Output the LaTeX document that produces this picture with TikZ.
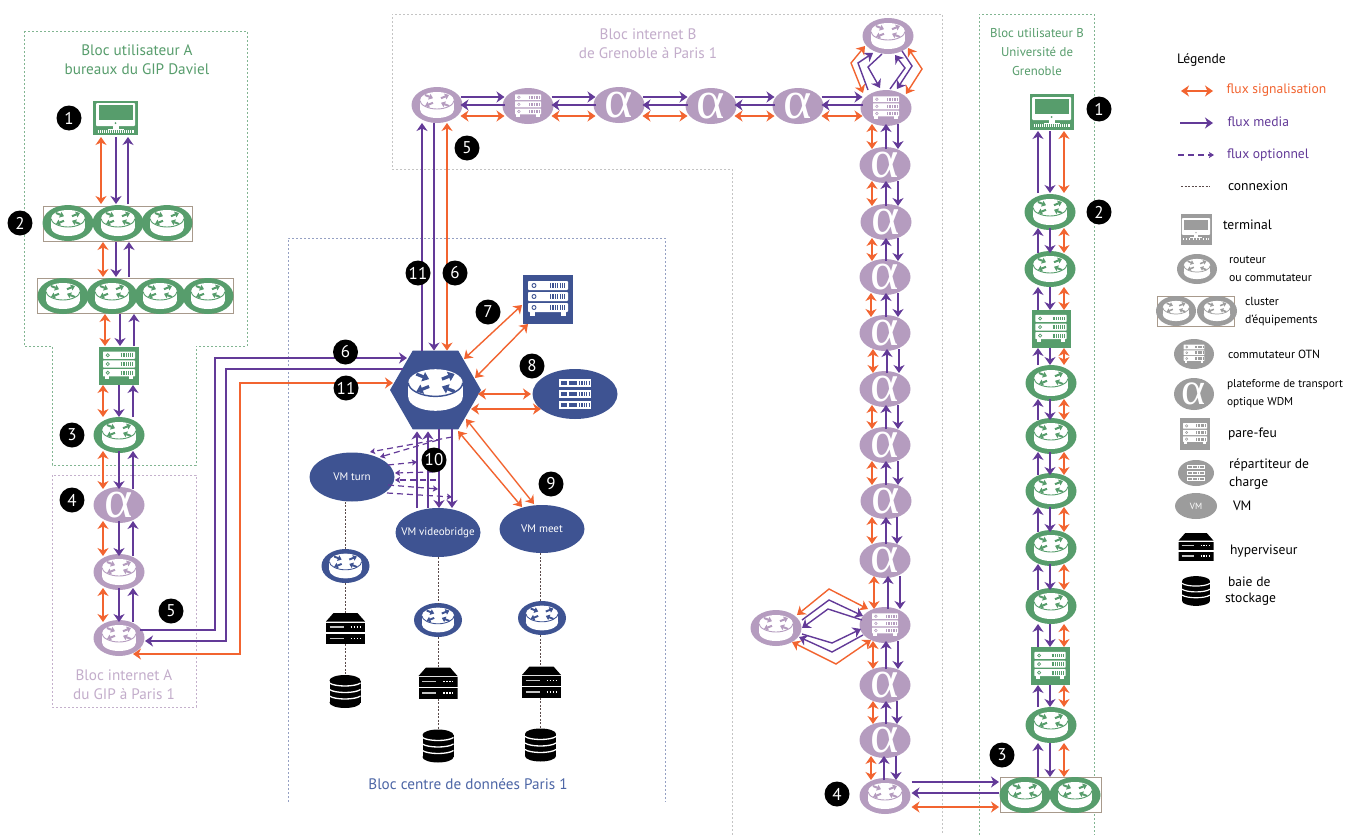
\documentclass[tikz,border=0pt]{standalone}
\usepackage{fontspec}
\setmainfont{PT Sans}
\newfontfamily\greekfont{Liberation Serif}
\usetikzlibrary{arrows.meta,shapes.geometric,calc}
\definecolor{grn}{HTML}{579D6C}
\definecolor{ppl}{HTML}{B59CBF}
\definecolor{blu}{HTML}{3E5392}
\definecolor{org}{HTML}{F26430}
\definecolor{vio}{HTML}{633A98}
\definecolor{gry}{HTML}{9C9C9C}
\definecolor{brn}{HTML}{A89A8C}
\definecolor{ttlp}{HTML}{C3ADCB}
\definecolor{ttlb}{HTML}{4D66A6}
\definecolor{dotc}{HTML}{5A4A4A}
% ---------- icons, drawn inside their node (origin = node centre)
\newcommand\routericon[2]{%
 \begin{scope}[shift={(path picture bounding box.center)},x=#2pt,y=-#2pt]
  \fill[white] (0,-4.5) ellipse [x radius=17,y radius=8.5];
  \fill[white] (0,4.5) ellipse [x radius=17,y radius=8.5];
  \fill[white] (-17,-4.5) rectangle (17,4.5);
  \draw[#1,line width=#2*0.9pt] (-17,-4.5) .. controls (-17,0) and (-9,4) .. (0,4) .. controls (9,4) and (17,0) .. (17,-4.5);
  \begin{scope}[#1,line width=#2*2pt,-{Triangle[length=4pt,width=6pt,scale=#2]}]
   \draw (-12,-10) -- (-4,-6.8);
   \draw (12,1) -- (4,-2.2);
   \draw (4,-6.8) -- (12,-10);
   \draw (-4,-2.2) -- (-12,1);
  \end{scope}
 \end{scope}}
\newcommand\srvrow[3]{% colour, y, scale
  \fill[white,rounded corners=#3*0.8pt] (-20,#2) rectangle (20,#2+9);
  \draw[#1,line width=#3*0.9pt] (-14,#2+4.5) circle [radius=2];
  \draw[#1,line width=#3*5pt,dash pattern=on #3*1.2pt off #3*1.2pt] (2,#2+4.5) -- (17,#2+4.5);}
\newcommand\servericon[2]{%
 \begin{scope}[shift={(path picture bounding box.center)},x=#2pt,y=-#2pt]
  \srvrow{#1}{-18}{#2}\srvrow{#1}{-7}{#2}\srvrow{#1}{4}{#2}
  \fill[white] (-18,13) rectangle (-13,16.5);
  \fill[white] (13,13) rectangle (18,16.5);
 \end{scope}}
\newcommand\lbrow[3]{%
  \fill[white] (-16,#2) rectangle (16,#2+8);
  \fill[#1] (-14,#2+2) rectangle (-8,#2+6);
  \fill[#1] (-6,#2+2) rectangle (2,#2+6);
  \draw[#1,line width=#3*4.5pt,dash pattern=on #3*1.2pt off #3*1.2pt] (4,#2+4) -- (15,#2+4);}
\newcommand\lbicon[2]{%
 \begin{scope}[shift={(path picture bounding box.center)},x=#2pt,y=-#2pt]
  \lbrow{#1}{-15}{#2}\lbrow{#1}{-4}{#2}\lbrow{#1}{7}{#2}
 \end{scope}}
\newcommand\termicon[2]{%
 \begin{scope}[shift={(path picture bounding box.center)},x=#2pt,y=-#2pt]
  \fill[white,rounded corners=#2*1pt] (-19.5,-15) rectangle (19.5,8);
  \fill[#1] (-17,-13) rectangle (17,2);
  \fill[#1] (0,5) circle [radius=1];
  \fill[white] (-3,8) rectangle (3,12);
  \fill[white] (-8,10.5) rectangle (8,12);
  \draw[white,line width=#2*2.5pt] (-18,13.5) -- (18,13.5);
  \draw[#1,line width=#2*2.5pt,dash pattern=on #2*1pt off #2*1pt] (-17,13.5) -- (17,13.5);
 \end{scope}}
\newcommand\hypericon[1]{%
 \begin{scope}[shift={(path picture bounding box.center)},x=#1pt,y=-#1pt]
  \fill[black] (-12,-15.5) -- (12,-15.5) -- (19.5,-7) -- (-19.5,-7) -- cycle;
  \fill[black] (-19.5,-6) rectangle (19.5,3.5);
  \fill[black] (-19.5,5) rectangle (19.5,15.5);
  \foreach \yy in {-1.5,10}{
   \draw[gry!60,line width=#1*1.2pt] (-16,\yy) -- (-2,\yy);
   \draw[white,line width=#1*1.2pt,dash pattern=on #1*1.5pt off #1*1.5pt] (5,\yy) -- (15,\yy);}
 \end{scope}}
\newcommand\storicon[1]{%
 \begin{scope}[shift={(path picture bounding box.center)},x=#1pt,y=-#1pt]
  \fill[black] (0,-11) ellipse [x radius=15.5,y radius=5.5];
  \fill[black] (0,11) ellipse [x radius=15.5,y radius=5.5];
  \fill[black] (-15.5,-11) rectangle (15.5,11);
  \foreach \yy in {-7,-0.5,6}{
   \draw[white,line width=#1*1.3pt] (-15.5,\yy-1.5) .. controls (-10,\yy+2.5) and (10,\yy+2.5) .. (15.5,\yy-1.5);}
 \end{scope}}
\newcommand\alp{\smash{\raisebox{-12pt}{\makebox[0pt]{α}}}}
\newcommand\alps{\smash{\raisebox{-10pt}{\makebox[0pt]{α}}}}
\newcommand\zt[1]{\makebox[0pt]{#1}}
% ---------- styles
\tikzset{
 x=1pt,y=-1pt,
 devbase/.style={inner sep=0pt,outer sep=0pt,draw=none},
 rtz/.style n args={4}{devbase,ellipse,fill=#1,minimum width=#2pt,minimum height=#3pt,path picture={\routericon{#1}{#4}}},
 otz/.style n args={4}{devbase,ellipse,fill=#1,minimum width=#2pt,minimum height=#3pt,path picture={\servericon{#1}{#4}}},
 fwz/.style n args={4}{devbase,rectangle,fill=#1,minimum width=#2pt,minimum height=#3pt,path picture={\servericon{#1}{#4}}},
 tmz/.style n args={4}{devbase,rectangle,fill=#1,minimum width=#2pt,minimum height=#3pt,path picture={\termicon{#1}{#4}}},
 lbz/.style n args={4}{devbase,ellipse,fill=#1,minimum width=#2pt,minimum height=#3pt,path picture={\lbicon{#1}{#4}}},
 rtr/.style={rtz={#1}{51}{36}{1}},
 otn/.style={otz={#1}{51}{36}{0.65}},
 wdm/.style={devbase,ellipse,fill=ppl,minimum width=51pt,minimum height=36pt,text=white,font=\greekfont\fontsize{54}{54}\selectfont},
 hyp/.style={devbase,rectangle,minimum width=39pt,minimum height=31pt,path picture={\hypericon{1}}},
 sto/.style={devbase,rectangle,minimum width=32pt,minimum height=33pt,path picture={\storicon{1}}},
 vmn/.style={devbase,ellipse,fill=blu,minimum width=85pt,minimum height=49pt,text=white,font=\fontsize{11}{13}\selectfont},
 clu/.style={rectangle,draw=brn,line width=1pt,fill=white,inner sep=0pt,outer sep=0pt},
 badge/.style={devbase,circle,fill=black,minimum size=25pt,text=white,font=\fontsize{17}{17}\selectfont},
 sig/.style={draw=org,line width=1.4pt,{Stealth[length=8pt,width=11pt,inset=2.5pt]}-{Stealth[length=8pt,width=11pt,inset=2.5pt]}},
 med/.style={draw=vio,line width=1.4pt,-{Stealth[length=8pt,width=11pt,inset=2.5pt]}},
 opt/.style={draw=vio,line width=1.2pt,dash pattern=on 6pt off 4pt,-{Stealth[length=5pt,width=6pt,inset=1pt]}},
 conn/.style={draw=dotc,line width=0.9pt,dash pattern=on 2pt off 1.5pt},
 lim/.style={line width=0.8pt,dash pattern=on 2pt off 2pt},
 ttl/.style={devbase,align=center,font=\fontsize{15.2}{19}\selectfont},
 leg/.style={devbase,anchor=west,align=left,font=\fontsize{13.6}{18}\selectfont},
 legs/.style={leg,font=\fontsize{11.8}{18}\selectfont},
}
\newcommand\vl[6][-2pt]{% top, bottom, x orange, x down, x up
 \draw[sig,shorten >=#1,shorten <=#1] (#4,0 |- #2.south) -- (#4,0 |- #3.north);
 \draw[med,shorten >=#1,shorten <=#1] (#5,0 |- #2.south) -- (#5,0 |- #3.north);
 \draw[med,shorten >=#1,shorten <=#1] (#6,0 |- #3.north) -- (#6,0 |- #2.south);}
\newcommand\hl[6][-2pt]{% left, right, y forward, y back, y orange
 \draw[med,shorten >=#1,shorten <=#1] (#2.east |- 0,#4) -- (#3.west |- 0,#4);
 \draw[med,shorten >=#1,shorten <=#1] (#3.west |- 0,#5) -- (#2.east |- 0,#5);
 \draw[sig,shorten >=#1,shorten <=#1] (#2.east |- 0,#6) -- (#3.west |- 0,#6);}
\begin{document}
\begin{tikzpicture}
\useasboundingbox (0,0) rectangle (1347,835);
\fill[white] (0,0) rectangle (1347,835);
% ---------- block outlines
\draw[lim,draw=grn!75] (24,31) -- (247,31) -- (247,346) -- (196,346) -- (196,465) -- (52,465) -- (52,346) -- (24,346) -- cycle;
\draw[lim,draw=ppl!80] (52,475) rectangle (196,707);
\draw[lim,draw=blu!55] (288,802) -- (288,238) -- (665,238) -- (665,802);
\draw[lim,draw=gry!60] (732,835) -- (732,169) -- (392,169) -- (392,14) -- (942,14) -- (942,835);
\draw[lim,draw=grn!75] (979,835) -- (979,14) -- (1094,14) -- (1094,835);
% ---------- titles
\node[ttl,text=grn] (tA) at (137,59.5) {Bloc utilisateur A\\bureaux du GIP Daviel};
\node[ttl,text=ttlp] (tiA) at (124,684.5) {Bloc internet A\\du GIP à Paris 1};
\node[ttl,text=ttlp] (tiB) at (648,44) {Bloc internet B\\de Grenoble à Paris 1};
\node[ttl,text=ttlb] (tC) at (468,784) {Bloc centre de données Paris 1};
\node[ttl,text=grn,font=\fontsize{12.8}{19}\selectfont] (tB) at (1037,52) {Bloc utilisateur B\\Université de\\Grenoble};
% ---------- user A
\node[tmz={grn}{45}{34}{1}] (tmA) at (115.5,118) {};
\node[clu,minimum width=149pt,minimum height=35pt] (cl1) at (117.5,223.5) {};
\node[rtr=grn] (c11) at (68,223) {};
\node[rtr=grn] (c12) at (118,223) {};
\node[rtr=grn] (c13) at (167,223) {};
\node[clu,minimum width=196pt,minimum height=35pt] (cl2) at (135,295.5) {};
\node[rtr=grn] (c21) at (63,296) {};
\node[rtr=grn] (c22) at (112,296) {};
\node[rtr=grn] (c23) at (160,296) {};
\node[rtr=grn] (c24) at (208,296) {};
\node[fwz={grn}{40}{38}{0.8}] (fwA) at (119,366) {};
\node[rtr=grn] (r3A) at (119,435) {};
\node[wdm] (aA) at (119,505) {\alp};
\node[rtr=ppl] (rp1) at (119,572) {};
\node[rtr=ppl] (rp2) at (119,638) {};
\vl[2pt]{tmA}{cl1}{101}{116}{128}
\vl[1pt]{cl1}{cl2}{103}{116}{129}
\vl[1pt]{cl2}{fwA}{105}{120}{134}
\vl[0pt]{fwA}{r3A}{103}{119}{133}
\vl{r3A}{aA}{103}{119}{133}
\vl{aA}{rp1}{103}{119}{133}
\vl{rp1}{rp2}{103}{119}{133}
% ---------- data centre
\node[devbase,regular polygon,regular polygon sides=6,minimum size=91pt,fill=blu,path picture={\routericon{blu}{1.6}}] (hex) at (435.5,390) {};
\node[fwz={blu}{50}{49}{1}] (fw7) at (548,299) {};
\node[lbz={blu}{85}{50}{1}] (lb8) at (575,394) {};
\node[vmn] (turn) at (352,477) {\zt{VM turn}};
\node[vmn] (vid) at (438,532.5) {\zt{VM videobridge}};
\node[vmn,minimum height=48pt] (meet) at (542,529) {\zt{VM meet}};
\node[rtz={blu}{48}{34}{0.95}] (rd1) at (345.5,566) {};
\node[rtz={blu}{48}{34}{0.95}] (rd2) at (438,620) {};
\node[rtz={blu}{48}{34}{0.95}] (rd3) at (542,618) {};
\node[hyp] (hy1) at (345.5,628.5) {};
\node[hyp] (hy2) at (438,683) {};
\node[hyp] (hy3) at (541.5,682) {};
\node[sto] (st1) at (345,691.5) {};
\node[sto] (st2) at (438,746) {};
\node[sto] (st3) at (540.5,745) {};
\draw[conn] (345.5,0 |- turn.south) -- (345.5,0 |- rd1.north);
\draw[conn] (345.5,0 |- rd1.south) -- (345.5,0 |- hy1.north);
\draw[conn] (345.5,0 |- hy1.south) -- (345.5,0 |- st1.north);
\draw[conn] (vid.south) -- (rd2.north);
\draw[conn] (rd2.south) -- (hy2.north);
\draw[conn] (hy2.south) -- (st2.north);
\draw[conn] (540.5,0 |- meet.south) -- (540.5,0 |- rd3.north);
\draw[conn] (540.5,0 |- rd3.south) -- (540.5,0 |- hy3.north);
\draw[conn] (540.5,0 |- hy3.south) -- (540.5,0 |- st3.north);
\draw[sig] ([shift={(28.5,-31)}]hex.center) -- ([shift={(-26,6)}]fw7.center);
\draw[sig] ([shift={(39.5,-12)}]hex.center) -- ([shift={(-20,25)}]fw7.center);
\draw[sig] ([shift={(42.5,4)}]hex.center) -- ([shift={(-44,0)}]lb8.center);
\draw[sig] ([shift={(35.5,19)}]hex.center) -- ([shift={(-34,15)}]lb8.center);
\draw[sig] ([shift={(30.5,29)}]hex.center) -- ([shift={(-8,-25)}]meet.center);
\draw[sig] ([shift={(22.5,41)}]hex.center) -- ([shift={(-20,-22)}]meet.center);
\draw[med,shorten >=2pt] (417,0 |- vid.north) -- (417,0 |- hex.south);
\draw[med,shorten >=2pt] (428,0 |- vid.north) -- (428,0 |- hex.south);
\draw[med] (439,0 |- hex.south) -- (439,0 |- vid.north);
\draw[med] (452,0 |- hex.south) -- (452,0 |- vid.north);
\draw[opt] ([shift={(16.5,47)}]hex.center) -- ([shift={(18,-25)}]turn.center);
\draw[opt] ([shift={(2.5,50)}]hex.center) -- ([shift={(28,-20)}]turn.center);
\draw[opt] ([shift={(36,-12)}]turn.center) -- ([shift={(-18.5,72)}]hex.center);
\draw[opt] ([shift={(-2.5,82)}]hex.center) -- ([shift={(43,-4)}]turn.center);
\draw[opt] ([shift={(0,90)}]hex.center) -- ([shift={(43,3)}]turn.center);
\draw[opt] ([shift={(36,8)}]turn.center) -- ([shift={(2.5,99)}]hex.center);
\draw[opt] ([shift={(35,16)}]turn.center) -- ([shift={(16.5,107)}]hex.center);
% ---------- links block A <-> hex
\draw[med] ([shift={(21,-8)}]rp2.center) -| (215,358) -- ([shift={(-28.5,-32)}]hex.center);
\draw[med] ([shift={(-33,-21)}]hex.center) -- (226,369) |- ([shift={(26,3)}]rp2.center);
\draw[sig] ([shift={(14,16)}]rp2.center) -| (240,383) -- ([shift={(-42.5,-7)}]hex.center);
% ---------- internet B
\node[rtr=ppl] (rB1) at (437,105) {};
\node[otn=ppl] (otA) at (528,106) {};
\node[wdm] (a1) at (619,105) {\alp};
\node[wdm] (a2) at (711,106) {\alp};
\node[wdm] (a3) at (798,106) {\alp};
\node[otn=ppl] (otT) at (886,108) {};
\node[rtr=ppl] (rTop) at (888,36) {};
\node[wdm] (b1) at (885,165) {\alp};
\node[wdm] (b2) at (886,222) {\alp};
\node[wdm] (b3) at (885,277) {\alp};
\node[wdm] (b4) at (885,333) {\alp};
\node[wdm] (b5) at (885,389) {\alp};
\node[wdm] (b6) at (885,445) {\alp};
\node[wdm] (b7) at (886,501) {\alp};
\node[wdm] (b8) at (885,560) {\alp};
\node[otn=ppl] (otB) at (885,625) {};
\node[wdm] (b9) at (885,685) {\alp};
\node[wdm] (b10) at (885,740) {\alp};
\node[rtr=ppl] (rB2) at (885,796) {};
\node[rtr=ppl] (rL) at (776,628) {};
\draw[med] (422,0 |- hex.north) -- (422,0 |- rB1.south);
\draw[med] (434,0 |- rB1.south) -- (434,0 |- hex.north);
\draw[sig] (447,0 |- rB1.south) -- (447,0 |- hex.north);
\hl{rB1}{otA}{97}{105}{116}
\hl{otA}{a1}{97}{105}{116}
\hl{a1}{a2}{97}{105}{116}
\hl{a2}{a3}{97}{105}{116}
\hl{a3}{otT}{97}{105}{116}
\vl{otT}{b1}{872}{898}{886}
\vl{b1}{b2}{872}{898}{886}
\vl{b2}{b3}{872}{898}{886}
\vl{b3}{b4}{871}{898}{886}
\vl{b4}{b5}{873}{899}{887}
\vl{b5}{b6}{872}{898}{886}
\vl{b6}{b7}{872}{898}{886}
\vl{b7}{b8}{872}{897}{886}
\vl{b8}{otB}{874}{900}{888}
\vl{otB}{b9}{873}{898}{886}
\vl{b9}{b10}{873}{897}{886}
\vl{b10}{rB2}{871}{896}{884}
% loops
\draw[sig] ([shift={(-23,-15)}]otT.center) -- ++(-12,-30) -- ([shift={(-23,10)}]rTop.center);
\draw[med] ([shift={(-18,-18)}]otT.center) -- ++(-10,-27) -- ([shift={(-15,17)}]rTop.center);
\draw[med] ([shift={(-6,18)}]rTop.center) -- ++(-14,13) -- ([shift={(-6,-20)}]otT.center);
\draw[sig] ([shift={(20,12)}]rTop.center) -- ++(14,21) -- ([shift={(20,-14)}]otT.center);
\draw[med] ([shift={(14,15)}]rTop.center) -- ++(10,15) -- ([shift={(11,-19)}]otT.center);
\draw[med] ([shift={(4,-19)}]otT.center) -- ++(15,-21) -- ([shift={(7,19)}]rTop.center);
\draw[sig] ([shift={(21,-13)}]rL.center) -- (829,589) -- ([shift={(-17,-16)}]otB.center);
\draw[med] ([shift={(26,-8)}]rL.center) -- (829,600) -- ([shift={(-22,-9)}]otB.center);
\draw[med] ([shift={(-23,-5)}]otB.center) -- (828,609) -- ([shift={(26,0)}]rL.center);
\draw[med] ([shift={(26,6)}]rL.center) -- (832,643) -- ([shift={(-24,4)}]otB.center);
\draw[med] ([shift={(-22,10)}]otB.center) -- (832,652) -- ([shift={(23,9)}]rL.center);
\draw[sig] ([shift={(16,14)}]rL.center) -- (836,664) -- ([shift={(-14,15)}]otB.center);
% ---------- user B
\node[tmz={grn}{44}{36}{1}] (tmB) at (1051.5,112) {};
\node[rtr=grn] (R1) at (1050,212) {};
\node[rtr=grn] (R2) at (1050,269) {};
\node[fwz={grn}{39}{38}{0.78}] (fw1) at (1051,329) {};
\node[rtr=grn] (R3) at (1051,383) {};
\node[rtr=grn] (R4) at (1051,436) {};
\node[rtr=grn] (R5) at (1051,491) {};
\node[rtr=grn] (R6) at (1051,548) {};
\node[rtr=grn] (R7) at (1051,606) {};
\node[fwz={grn}{39}{38}{0.78}] (fw2) at (1050,666) {};
\node[rtr=grn] (R8) at (1051,725) {};
\node[clu,minimum width=101pt,minimum height=35pt] (cl3) at (1050.5,794.5) {};
\node[rtr=grn] (c31) at (1025,795) {};
\node[rtr=grn] (c32) at (1075,795) {};
\vl[1pt]{tmB}{R1}{1064}{1050}{1038}
\vl{R1}{R2}{1064}{1050}{1038}
\vl[0pt]{R2}{fw1}{1064}{1050}{1038}
\vl[0pt]{fw1}{R3}{1064}{1050}{1038}
\vl{R3}{R4}{1064}{1050}{1038}
\vl{R4}{R5}{1064}{1050}{1038}
\vl{R5}{R6}{1064}{1050}{1038}
\vl{R6}{R7}{1064}{1050}{1038}
\vl[0pt]{R7}{fw2}{1064}{1050}{1038}
\vl[0pt]{fw2}{R8}{1064}{1050}{1038}
\vl[0pt]{R8}{cl3}{1064}{1050}{1038}
\hl[1pt]{rB2}{cl3}{782}{793}{807}
% ---------- badges
\node[badge] (n1a) at (69,118) {1};
\node[badge] (n2a) at (20,223) {2};
\node[badge] (n3a) at (72,435) {3};
\node[badge] (n4a) at (72,500) {4};
\node[badge] (n5a) at (171,611) {5};
\node[badge] (n6a) at (345.5,352) {6};
\node[badge] (n11a) at (346,388) {11};
\node[badge] (n11b) at (418,273) {11};
\node[badge] (n6b) at (455,273) {6};
\node[badge] (n7) at (488,312) {7};
\node[badge] (n8) at (532,366) {8};
\node[badge] (n9) at (551,484) {9};
\node[badge] (n10) at (434,460) {10};
\node[badge] (n5b) at (467,148) {5};
\node[badge] (n1b) at (1099,109) {1};
\node[badge] (n2b) at (1099,212) {2};
\node[badge] (n3b) at (1002,755) {3};
\node[badge] (n4b) at (837,794) {4};
% ---------- legend
\node[leg] (lTitle) at (1177,60) {Légende};
\coordinate (ls1) at (1181,91); \coordinate (ls2) at (1213,91);
\coordinate (lm1) at (1180,123); \coordinate (lm2) at (1213,123);
\coordinate (lo1) at (1178,155); \coordinate (lo2) at (1214,155);
\coordinate (lc1) at (1181,186); \coordinate (lc2) at (1210,186);
\draw[sig] (ls1) -- (ls2);
\draw[med] (lm1) -- (lm2);
\draw[opt] (lo1) -- (lo2);
\draw[conn,line width=0.7pt] (lc1) -- (lc2);
\node[leg,text=org] (l1) at (1226.5,90) {flux signalisation};
\node[leg,text=vio] (l2) at (1227.5,122) {flux media};
\node[leg,text=vio] (l3) at (1227,155) {flux optionnel};
\node[leg] (l4) at (1228,186) {connexion};
\node[tmz={gry}{31}{31}{0.72}] (iT) at (1196,229) {};
\node[leg] (l5) at (1223,225) {terminal};
\node[rtz={gry}{40}{30}{0.78}] (iR) at (1197,269) {};
\node[legs] (l6) at (1229,269) {routeur\\ou commutateur};
\node[clu,minimum width=77pt,minimum height=30pt] (iC) at (1195.5,311) {};
\node[rtz={gry}{40}{30}{0.78}] (iC1) at (1176,311) {};
\node[rtz={gry}{40}{30}{0.78}] (iC2) at (1217,311) {};
\node[legs] (l7) at (1245,311.5) {cluster\\d'équipements};
\node[otz={gry}{40}{30}{0.52}] (iO) at (1194,354) {};
\node[legs] (l8) at (1228,354) {commutateur OTN};
\node[devbase,ellipse,fill=gry,minimum width=40pt,minimum height=32pt,text=white,font=\greekfont\fontsize{46}{46}\selectfont] (iA) at (1194,394) {\alps};
\node[leg,font=\fontsize{11.4}{18}\selectfont] (l9) at (1227,394) {plateforme de transport\\optique WDM};
\node[fwz={gry}{30}{32}{0.6}] (iF) at (1195,434) {};
\node[leg] (l10) at (1228,434) {pare-feu};
\node[lbz={gry}{36}{26}{0.55}] (iL) at (1196,473) {};
\node[leg] (l11) at (1229,474) {répartiteur de\\charge};
\node[devbase,ellipse,fill=gry,minimum width=42pt,minimum height=26pt,text=white,font=\fontsize{9}{10}\selectfont] (iV) at (1196,506) {VM};
\node[leg] (l12) at (1233,506) {VM};
\node[devbase,rectangle,minimum width=35pt,minimum height=29pt,path picture={\hypericon{0.9}}] (iH) at (1196,547) {};
\node[leg] (l13) at (1230,551) {hyperviseur};
\node[devbase,rectangle,minimum width=28pt,minimum height=30pt,path picture={\storicon{0.9}}] (iS) at (1196,591) {};
\node[leg,anchor=west] (l14a) at (1228,582) {baie de};
\node[leg,anchor=west] (l14b) at (1225,599) {stockage};
\end{tikzpicture}
\end{document}
